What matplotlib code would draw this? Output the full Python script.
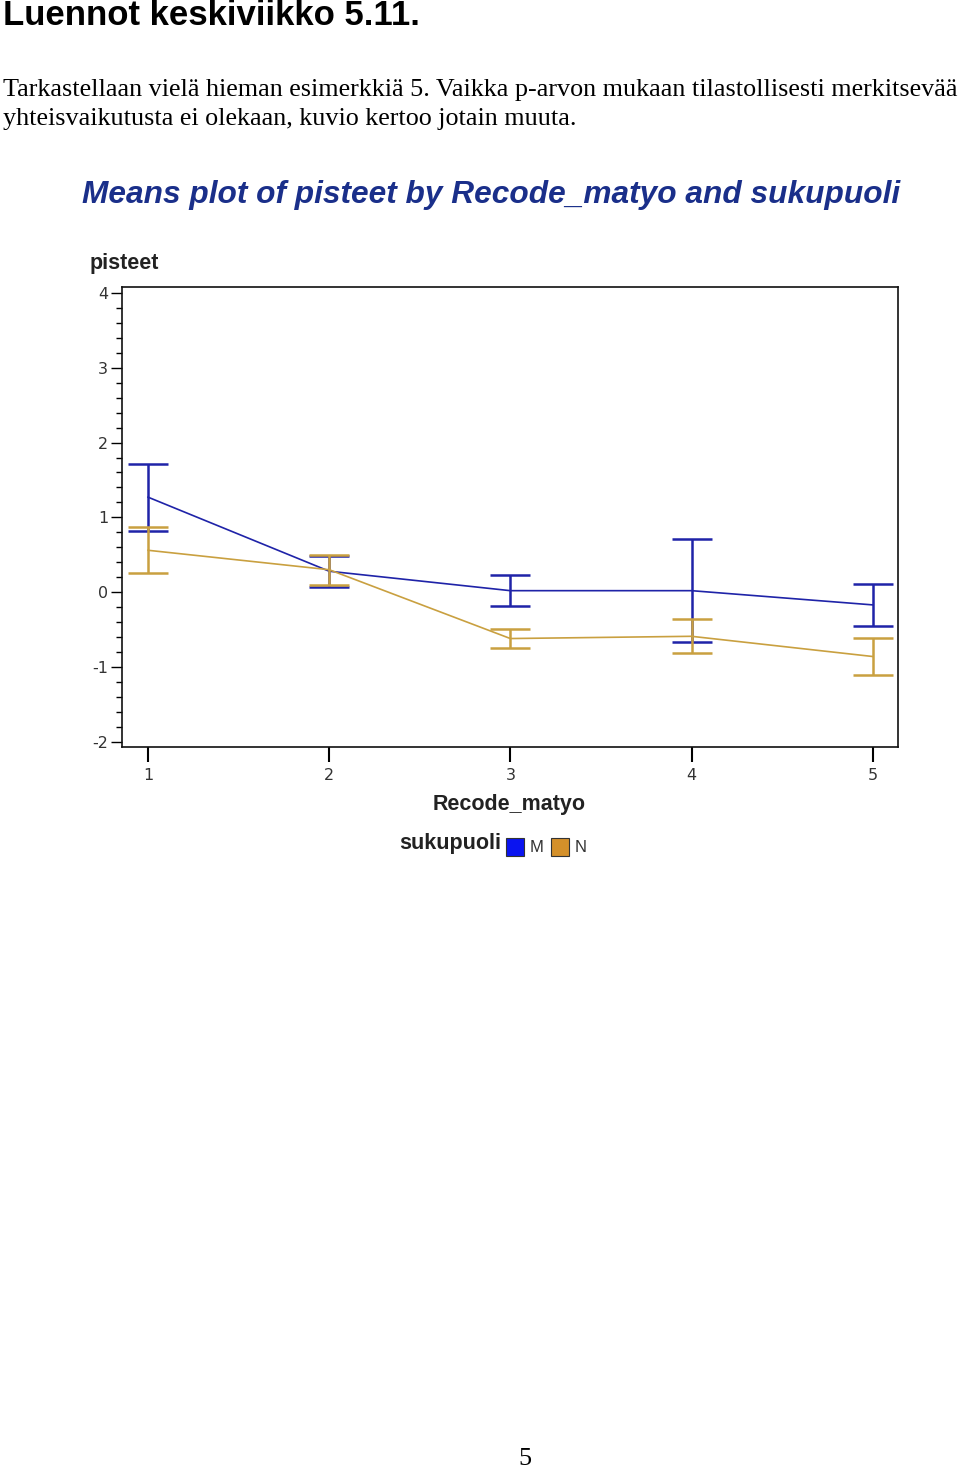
import matplotlib
matplotlib.use('Agg')
import matplotlib.pyplot as plt
from matplotlib.ticker import MultipleLocator
from matplotlib.patches import Rectangle

plt.rcParams['axes.unicode_minus'] = False

# Data
groups = [1, 2, 3, 4, 5]
mean_m = [1.27, 0.28, 0.02, 0.02, -0.17]
err_m = [0.45, 0.21, 0.21, 0.69, 0.28]
mean_n = [0.56, 0.30, -0.62, -0.59, -0.86]
err_n = [0.305, 0.20, 0.125, 0.225, 0.25]

W, H = 960, 1469
fig = plt.figure(figsize=(W / 100, H / 100), dpi=100)


def px(x, y):
    # pixel coords (from top-left) to figure fraction
    return x / W, 1 - y / H


# Page text
fig.text(*px(3, 25), 'Luennot keskiviikko 5.11.', fontsize=25, fontweight='bold',
         family='Liberation Sans', va='baseline')
fig.text(*px(3, 96), 'Tarkastellaan vielä hieman esimerkkiä 5. Vaikka p-arvon mukaan '
         'tilastollisesti merkitsevää', fontsize=18.8, family='Liberation Serif',
         va='baseline')
fig.text(*px(3, 125), 'yhteisvaikutusta ei olekaan, kuvio kertoo jotain muuta.',
         fontsize=18.8, family='Liberation Serif', va='baseline')
fig.text(*px(525, 1465), '5', fontsize=18.8, family='Liberation Serif',
         ha='center', va='baseline')

# Chart title
fig.text(*px(491, 203), 'Means plot of pisteet by Recode_matyo and sukupuoli',
         fontsize=22.8, fontweight='bold', style='italic', color='#1a2f8a',
         family='Liberation Sans', ha='center', va='baseline')

blue = '#1f23a8'
gold = '#c9a040'

l, t, r, b = 122, 287, 898, 747
ax = fig.add_axes([l / W, 1 - b / H, (r - l) / W, (b - t) / H])
ax.errorbar(groups, mean_m, yerr=err_m, color=blue, lw=1.2, elinewidth=1.8,
            capsize=14.4, capthick=1.8, zorder=2)
ax.errorbar(groups, mean_n, yerr=err_n, color=gold, lw=1.2, elinewidth=1.8,
            capsize=14.4, capthick=1.8, zorder=3)

ax.set_xlim(0.856, 5.14)
ax.set_ylim(-2.07, 4.08)
ax.set_xticks(groups)
ax.yaxis.set_major_locator(MultipleLocator(1))
ax.yaxis.set_minor_locator(MultipleLocator(0.2))
ax.tick_params(axis='y', which='major', length=8, width=1, direction='out',
               labelsize=11.5, labelcolor='#333333', pad=2)
ax.tick_params(axis='y', which='minor', length=4, width=1, direction='out')
ax.tick_params(axis='x', which='major', length=11, width=1.5, direction='out',
               labelsize=11.5, labelcolor='#333333', pad=4)
for s in ax.spines.values():
    s.set_linewidth(1.2)
    s.set_color('#111111')

fig.text(*px(90, 269), 'pisteet', fontsize=15.5, fontweight='bold',
         family='Liberation Sans', va='baseline', color='#222222')
fig.text(*px(509, 810), 'Recode_matyo', fontsize=15.5, fontweight='bold',
         family='Liberation Sans', ha='center', va='baseline', color='#222222')

# Legend
fig.text(*px(399, 849), 'sukupuoli', fontsize=15.5, fontweight='bold',
         family='Liberation Sans', va='baseline', color='#222222')
legend_items = [('M', '#0a14f0'), ('N', '#d4902a')]
x0 = 506
for name, col in legend_items:
    fx, fy = px(x0, 856)
    fig.patches.append(Rectangle((fx, fy), 18 / W, 18 / H, transform=fig.transFigure,
                                 facecolor=col, edgecolor='#333333', lw=0.8))
    fig.text(*px(x0 + 24, 852), name, fontsize=12, family='Liberation Sans',
             va='baseline', color='#333333')
    x0 += 45

fig.savefig('out.png', dpi=100)
